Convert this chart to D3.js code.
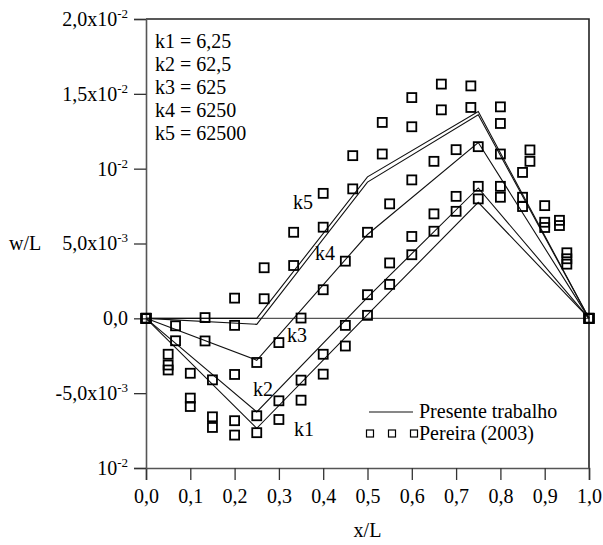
<!DOCTYPE html>
<html>
<head>
<meta charset="utf-8">
<script src="https://cdn.jsdelivr.net/npm/d3@7/dist/d3.min.js"></script>
</head>
<body style="margin:0; background:#fff">
<svg id="chart" width="603" height="545" style="display:block"></svg>
<script>
// ---- data -------------------------------------------------------------
// Present work: piecewise-linear deflection w/L at the nodes x/L
const nodeX = [0, 0.25, 0.5, 0.75, 1.0];
const presK1 = [0, -7.35e-3, 0.25e-3, 7.75e-3, 0];
const presK2 = [0, -6.25e-3, 1.40e-3, 8.71e-3, 0];
const presK3 = [0, -2.80e-3, 5.60e-3, 11.75e-3, 0];
const presK4 = [0, -0.40e-3, 9.10e-3, 13.60e-3, 0];
const presK5 = [0, 0.00e-3, 9.45e-3, 13.82e-3, 0];

// Pereira (2003), k1..k3, sampled every 0.05
const pereiraXa = [0, 0.05, 0.10, 0.15, 0.20, 0.25, 0.30, 0.35, 0.40, 0.45, 0.50,
                   0.55, 0.60, 0.65, 0.70, 0.75, 0.80, 0.85, 0.90, 0.95, 1.00];
const pereiraK1 = [0, -3.45e-3, -5.89e-3, -7.29e-3, -7.80e-3, -7.64e-3, -6.76e-3, -5.47e-3, -3.73e-3, -1.85e-3, 0.20e-3,
                   2.27e-3, 4.25e-3, 5.82e-3, 7.15e-3, 7.98e-3, 8.09e-3, 7.47e-3, 6.07e-3, 3.62e-3, 0];
const pereiraK2 = [0, -3.12e-3, -5.33e-3, -6.58e-3, -6.84e-3, -6.51e-3, -5.51e-3, -4.13e-3, -2.40e-3, -0.47e-3, 1.58e-3,
                   3.70e-3, 5.47e-3, 6.98e-3, 8.15e-3, 8.82e-3, 8.82e-3, 8.09e-3, 6.42e-3, 3.98e-3, 0];
const pereiraK3 = [0, -2.40e-3, -3.67e-3, -4.11e-3, -3.75e-3, -2.95e-3, -1.62e-3, 0.02e-3, 1.91e-3, 3.82e-3, 5.75e-3,
                   7.65e-3, 9.25e-3, 10.49e-3, 11.27e-3, 11.47e-3, 10.98e-3, 9.75e-3, 7.53e-3, 4.38e-3, 0];

// Pereira (2003), k4..k5, sampled every 1/15
const pereiraXb = [0, 0.0667, 0.1333, 0.2, 0.2667, 0.3333, 0.4, 0.4667, 0.5333,
                   0.6, 0.6667, 0.7333, 0.8, 0.8667, 0.9333, 1.0];
const pereiraK4 = [0, -1.50e-3, -1.51e-3, -0.47e-3, 1.31e-3, 3.53e-3, 6.09e-3, 8.65e-3, 10.98e-3,
                   12.80e-3, 13.93e-3, 14.09e-3, 13.02e-3, 10.49e-3, 6.20e-3, 0];
const pereiraK5 = [0, -0.50e-3, 0.05e-3, 1.35e-3, 3.38e-3, 5.75e-3, 8.35e-3, 10.87e-3, 13.09e-3,
                   14.75e-3, 15.65e-3, 15.53e-3, 14.13e-3, 11.25e-3, 6.55e-3, 0];

const kLegend = ["k1 = 6,25", "k2 = 62,5", "k3 = 625", "k4 = 6250", "k5 = 62500"];
const curveNames = ["k1", "k2", "k3", "k4", "k5"];

const xTicks = [0, 0.1, 0.2, 0.3, 0.4, 0.5, 0.6, 0.7, 0.8, 0.9, 1.0];
const yTicks = [-0.01, -0.005, 0, 0.005, 0.01, 0.015, 0.02];
const yTickBase = ["10", "-5,0x10", "0,0", "5,0x10", "10", "1,5x10", "2,0x10"];
const yTickExp  = ["-2", "-3", "", "-3", "-2", "-2", "-2"];

// ---- drawing ----------------------------------------------------------
const svg = d3.select("#chart");
const x = d3.scaleLinear().domain([0, 1]).range([146, 589]);
const y = d3.scaleLinear().domain([-0.01, 0.02]).range([468, 19]);
const FS = 20;
const axisColor = "#555";

function label(sel) {
  return sel.style("font-family", '"Liberation Serif"').attr("font-size", FS).attr("fill", "#000");
}

// frame (top and right)
svg.append("path")
  .attr("d", `M${x(0)},${y(0.02)}H${x(1)}V${y(-0.01)}`)
  .attr("fill", "none").attr("stroke", "#222").attr("stroke-width", 1.6);

// zero line
svg.append("line")
  .attr("x1", x(0)).attr("x2", x(1)).attr("y1", y(0)).attr("y2", y(0))
  .attr("stroke", axisColor).attr("stroke-width", 1.3);

// x axis
const gx = svg.append("g").attr("transform", `translate(0,${y(-0.01)})`)
  .call(d3.axisBottom(x).tickValues(xTicks).tickSize(12).tickPadding(9)
        .tickFormat(d => d3.format(".1f")(d).replace(".", ",")));
gx.select(".domain").attr("stroke", axisColor).attr("stroke-width", 1.6);
gx.selectAll(".tick line").attr("stroke", "#333").attr("stroke-width", 1.3);
label(gx.selectAll(".tick text"));

// y axis
const gy = svg.append("g").attr("transform", `translate(${x(0)},0)`)
  .call(d3.axisLeft(y).tickValues(yTicks).tickSize(12).tickPadding(6).tickFormat(""));
gy.select(".domain").attr("stroke", axisColor).attr("stroke-width", 1.6);
gy.selectAll(".tick line").attr("stroke", "#333").attr("stroke-width", 1.3);
gy.selectAll(".tick text").each(function(d, i) {
  const t = label(d3.select(this)).attr("dy", "0.32em");
  t.append("tspan").text(yTickBase[i]);
  if (yTickExp[i]) {
    t.append("tspan").attr("font-size", 13).attr("dy", -8).text(yTickExp[i]);
  }
});

// axis titles
label(svg.append("text")).attr("x", x(0.5)).attr("y", 537).attr("text-anchor", "middle").text("x/L");
label(svg.append("text")).attr("x", 9).attr("y", 250).text("w/L");

// present-work curves
const line = d3.line().x(d => x(d[0])).y(d => y(d[1]));
[presK1, presK2, presK3, presK4, presK5].forEach(vals => {
  svg.append("path")
    .datum(nodeX.map((xv, i) => [xv, vals[i]]))
    .attr("d", line)
    .attr("fill", "none").attr("stroke", "#111").attr("stroke-width", 1.1);
});

// Pereira (2003) markers
const SQ = 9;
const pts = [];
[pereiraK1, pereiraK2, pereiraK3].forEach(vals => pereiraXa.forEach((xv, i) => pts.push([xv, vals[i]])));
[pereiraK4, pereiraK5].forEach(vals => pereiraXb.forEach((xv, i) => pts.push([xv, vals[i]])));
svg.append("g").selectAll("rect").data(pts).join("rect")
  .attr("x", d => x(d[0]) - SQ / 2).attr("y", d => y(d[1]) - SQ / 2)
  .attr("width", SQ).attr("height", SQ)
  .attr("fill", "none").attr("stroke", "#000").attr("stroke-width", 1.8);

// curve labels
const curveLabelPos = [[294, 436], [253, 396], [287, 342], [315, 260], [293, 209]];
curveNames.forEach((n, i) => {
  label(svg.append("text")).attr("x", curveLabelPos[i][0]).attr("y", curveLabelPos[i][1]).text(n);
});

// stiffness list
kLegend.forEach((s, i) => {
  label(svg.append("text")).attr("x", 155).attr("y", 48 + i * 23).text(s);
});

// legend
svg.append("line").attr("x1", 369).attr("x2", 413).attr("y1", 412).attr("y2", 412)
  .attr("stroke", "#111").attr("stroke-width", 1.1);
label(svg.append("text")).attr("x", 419).attr("y", 418).text("Presente trabalho");
[370, 392, 414].forEach(cx => {
  svg.append("rect").attr("x", cx - 3.5).attr("y", 433.5 - 3.5).attr("width", 7).attr("height", 7)
    .attr("fill", "none").attr("stroke", "#000").attr("stroke-width", 1.2);
});
label(svg.append("text")).attr("x", 419).attr("y", 440).text("Pereira (2003)");
</script>
</body>
</html>
